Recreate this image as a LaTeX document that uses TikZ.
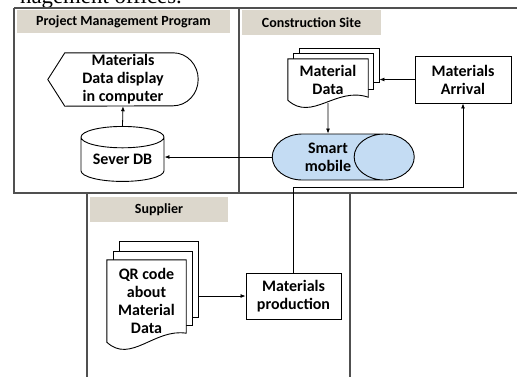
\documentclass[tikz,border=0pt]{standalone}
\usepackage{fontspec}
\setsansfont{Carlito}
\newfontfamily\pageserif{Liberation Serif}
\usetikzlibrary{arrows.meta,calc,shapes.geometric,positioning}
\pgfdeclarelayer{background}
\pgfsetlayers{background,main}
\definecolor{headgray}{HTML}{DCD7CC}
\definecolor{mobileblue}{HTML}{C4DCF3}
\definecolor{framegray}{HTML}{505050}

\tikzset{
  lane/.style={draw=framegray,line width=1.3pt},
  lanehead/.style={fill=headgray,inner sep=0pt,
    font=\sffamily\bfseries\fontsize{14}{16}\selectfont},
  boxtext/.style={font=\sffamily\bfseries\fontsize{16}{18}\selectfont,align=center,inner sep=0pt},
  procbox/.style={boxtext,draw,line width=0.9pt},
  sheet/.style={draw,fill=white,line width=0.9pt,inner sep=0pt},
  docline/.style={draw,fill=white,line width=0.9pt},
  arr/.style={-{Latex[length=5pt,width=4pt]},line width=0.8pt},
}

% document outline with a wavy foot, #2 = rise of the right end
\newcommand\docoutline[2]{%
  \draw[docline] (#1.north west) -- (#1.north east) -- ($(#1.south east)+(0,-#2)$)
    .. controls ($(#1.south west)!0.6!(#1.south east)+(0,-14)$)
       and ($(#1.south west)!0.3!(#1.south east)+(0,22)$) .. (#1.south west) -- cycle;}

\begin{document}
\begin{tikzpicture}[x=1pt,y=-1pt]
  \useasboundingbox (0,0) rectangle (517,376);
  \clip (0,0) rectangle (517,376);
  \node[anchor=base west,inner sep=0pt,font=\pageserif\fontsize{22.8}{26}\selectfont] (pagetext) at (20,3.5) {nagement offices.};

  % lanes
  \draw[lane] (14,8) -- (520,8);
  \draw[lane] (14,8) -- (14,193) -- (520,193);
  \draw[lane] (239,8) -- (239,193);
  \draw[lane] (87,193) -- (87,380);
  \draw[lane] (350,193) -- (350,380);
  \node[lanehead,minimum width=213,minimum height=23] (pmhead) at (123.5,21.5) {Project Management Program};
  \node[lanehead,minimum width=139,minimum height=25] (sitehead) at (311.5,22.5) {Construction Site};
  \node[lanehead,minimum width=138,minimum height=25] (suphead) at (159,209.5) {Supplier};

  % project management program
  \node[boxtext,minimum width=150,minimum height=53] (display) at (123,79.5) {Materials\\Data display\\in computer};
  \begin{pgfonlayer}{background}
    \draw[line width=0.9pt] (display.west) -- ($(display.north west)+(17,0)$) -- ($(display.north east)+(-25,0)$)
      arc[start angle=-90,end angle=90,x radius=25,y radius=26.5] -- ($(display.south west)+(17,0)$) -- cycle;
  \end{pgfonlayer}
  \node[boxtext,draw,line width=0.9pt,cylinder,shape border rotate=90,aspect=0.36,
    minimum width=83,minimum height=55] (db) at (122.5,159.5) {Sever DB};

  % construction site
  \node[boxtext,minimum width=80,minimum height=41] (mdata) at (328,79.5) {Material\\Data};
  \begin{pgfonlayer}{background}
    \node[sheet,minimum width=80,minimum height=34] (mdata3) at (339,65) {};
    \node[sheet,minimum width=80,minimum height=36] (mdata2) at (333,71) {};
    \docoutline{mdata}{3}
  \end{pgfonlayer}
  \node[procbox,minimum width=96,minimum height=47] (arrival) at (463,79.5) {Materials\\Arrival};
  \node[boxtext,draw,line width=0.9pt,cylinder,aspect=2.1,fill=mobileblue,
    minimum width=46,minimum height=142] (mobile) at (328,157) {Smart\\mobile};

  % supplier
  \node[boxtext,minimum width=79,minimum height=82] (qrdata) at (146.5,301) {QR code\\about\\Material\\Data};
  \begin{pgfonlayer}{background}
    \node[sheet,minimum width=79,minimum height=76] (qrdata3) at (158.5,279) {};
    \node[sheet,minimum width=79,minimum height=74] (qrdata2) at (152.5,288) {};
    \docoutline{qrdata}{9}
  \end{pgfonlayer}
  \node[procbox,minimum width=95,minimum height=46] (production) at (293.5,296) {Materials\\production};

  % flows
  \coordinate (mdatafoot) at ($(mdata.south)+(0,3)$);
  \coordinate (riser) at (production.north |- 0,187);
  \draw[arr] (db.north) -- (display.south);
  \draw[arr] (mobile.west) -- (mobile.west -| db.east);
  \draw[arr] (arrival.west) -- (arrival.west -| mdata3.east);
  \draw[arr] (mdatafoot) -- (mobile.north);
  \draw[arr] (production.west -| qrdata3.east) -- (production.west);
  \draw[arr] (production.north) -- (riser) -| (arrival.south);
\end{tikzpicture}
\end{document}
